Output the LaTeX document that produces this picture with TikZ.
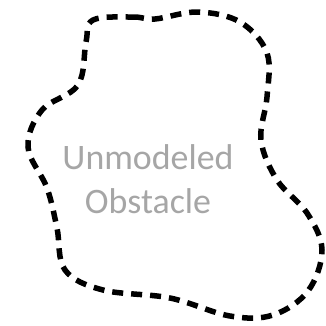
\documentclass[tikz,border=0pt]{standalone}
\usepackage{fontspec}
\setmainfont{Carlito}
\definecolor{labelgray}{HTML}{A6A6A6}
\begin{document}
\begin{tikzpicture}[x=1bp, y=-1bp,
    outline/.style={draw=black, line width=5.5bp, dash pattern=on 11bp off 8bp},
    caption/.style={text=labelgray, font=\fontsize{36}{44}\selectfont, align=center}
  ]
  \useasboundingbox (0,0) rectangle (326,326);
  % obstacle outline
  \draw[outline] plot[smooth cycle, tension=0.6] coordinates {
    (93,20) (133,17) (155,19) (198,12) (240,22) (267,53) (267,97) (261,140)
    (277,180) (307,213) (322,250) (308,291) (273,315) (230,316) (170,298)
    (103,290) (65,270) (57,228) (47,188) (28,147) (42,110) (78,85) (86,42)};
  \node[caption] (label) at (148,179) {Unmodeled\\Obstacle};
\end{tikzpicture}
\end{document}
